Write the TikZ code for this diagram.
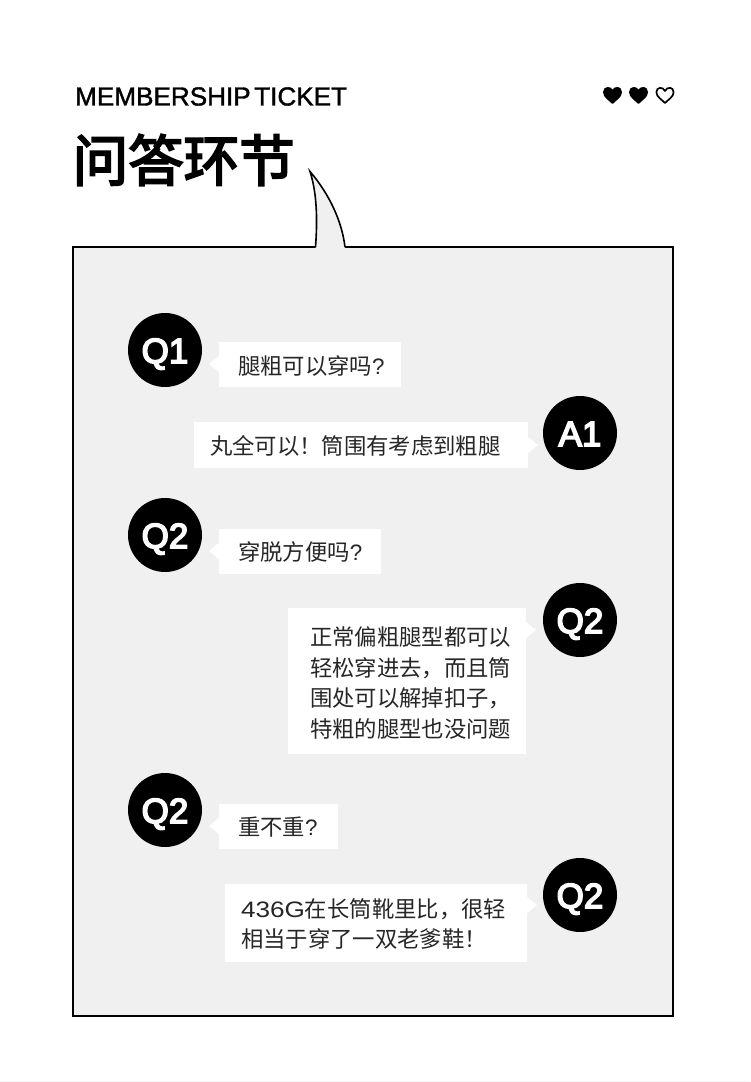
\documentclass[tikz,border=0pt]{standalone}
\usepackage{fontspec}
\setmainfont{Liberation Sans}
\newfontfamily\cjk{Noto Sans CJK SC}
\newfontfamily\cjktitle[FakeBold=3.6]{Noto Sans CJK SC}
\newfontfamily\latinmed[FakeBold=1.4,WordSpace=0.5]{Liberation Sans}
\newfontfamily\badgefont[FakeBold=4.5]{Liberation Sans}
\newfontfamily\latinmsg{Liberation Sans}
\definecolor{panelgrey}{HTML}{F0F0F0}
\newcommand{\wide}[1]{\scalebox{1.17}[1]{\latinmsg #1}}
\newcommand{\qm}{{\latinmsg ?}}
\newcommand{\fwex}{^^^^ff01}
\newcommand{\fwcm}{^^^^ff0c}
\tikzset{
  x=1pt,y=-1pt,
  bubble/.style={fill=white,draw=none},
  badge/.style={circle,fill=black,draw=none,minimum size=74pt,inner sep=0pt,text=white,text height=26pt,text depth=0pt,font=\fontsize{35}{35}\badgefont},
  msg/.style={inner sep=0pt,outer sep=0pt,anchor=west,align=left,text=black!85,font=\fontsize{22.35}{30.4}\cjk},
  tail/.style={fill=white,draw=none},
  heartshape/.pic={
    \path[pic actions,line width=1.7pt,line join=round] (0,8) .. controls (-3,4.8) and (-8.6,1.8) .. (-8.6,-2.8) .. controls (-8.6,-8.2) and (-2,-8.6) .. (0,-4) .. controls (2,-8.6) and (8.6,-8.2) .. (8.6,-2.8) .. controls (8.6,1.8) and (3,4.8) .. (0,8) -- cycle;
  },
}
\begin{document}
\begin{tikzpicture}
\useasboundingbox (0,0) rectangle (750,1082);
\fill[white] (0,0) rectangle (750,1082);
\fill[black!4] (0,1080.5) rectangle (750,1082);

\node[inner sep=0pt,anchor=west,font=\fontsize{26.1}{26}\latinmed,text=black] (sub) at (75,96.5) {MEMBERSHIP TICKET};
\node[inner sep=0pt,anchor=west,font=\fontsize{55.5}{55}\cjktitle,text=black] (title) at (72.5,160) {问答环节};

\pic[fill=black,draw=black] at (612.5,95) {heartshape};
\pic[fill=black,draw=black] at (638.5,95) {heartshape};
\pic[fill=white,draw=black] at (665,95) {heartshape};

% panel and speech tail
\draw[black,line width=2pt,fill=panelgrey,line join=miter] (73,247) rectangle (673,1016);
\fill[panelgrey] (315.5,248) .. controls (318,215) and (316,190) .. (310,171.5) .. controls (330,195) and (342,222) .. (345,248) -- cycle;
\draw[black,line width=1.6pt,line join=miter] (315.5,247) .. controls (318,215) and (316,190) .. (310,171.5) .. controls (330,195) and (342,222) .. (345,247);
\fill[panelgrey] (316.5,246.5) rectangle (344,248.6);

% tails
\fill[tail] (220,355) -- (209,364) -- (220,373) -- cycle;
\fill[tail] (527,436) -- (538,445) -- (527,454) -- cycle;
\fill[tail] (220,542) -- (209,551) -- (220,560) -- cycle;
\fill[tail] (525,621) -- (536,630) -- (525,639) -- cycle;
\fill[tail] (220,817) -- (209,826) -- (220,835) -- cycle;
\fill[tail] (526,896) -- (537,905) -- (526,914) -- cycle;

% bubbles
\fill[bubble] (219,342) rectangle (401,387);
\fill[bubble] (194,422) rectangle (528,468);
\fill[bubble] (219,529) rectangle (381,574);
\fill[bubble] (288,608) rectangle (526,754);
\fill[bubble] (219,804) rectangle (338,849);
\fill[bubble] (225,884) rectangle (527,962);

% badges
\node[badge] (q1) at (165,350) {Q1};
\node[badge] (a1) at (580,433) {A1};
\node[badge] (q2a) at (165,535) {Q2};
\node[badge] (q2b) at (580,620) {Q2};
\node[badge] (q2c) at (165,810) {Q2};
\node[badge] (q2d) at (580,895) {Q2};

% messages
\node[msg] (m1) at (238,366) {腿粗可以穿吗\qm};
\node[msg] (m2) at (210,446) {丸全可以\fwex 筒围有考虑到粗腿};
\node[msg] (m3) at (238,552) {穿脱方便吗\qm};
\node[msg] (m4) at (310,683) {正常偏粗腿型都可以\\轻松穿进去\fwcm 而且筒\\围处可以解掉扣子\fwcm\\特粗的腿型也没问题};
\node[msg] (m5) at (238,827) {重不重\qm};
\node[msg] (m6) at (241,924) {\wide{436G}在长筒靴里比\fwcm 很轻\\相当于穿了一双老爹鞋\fwex};
\end{tikzpicture}
\end{document}
